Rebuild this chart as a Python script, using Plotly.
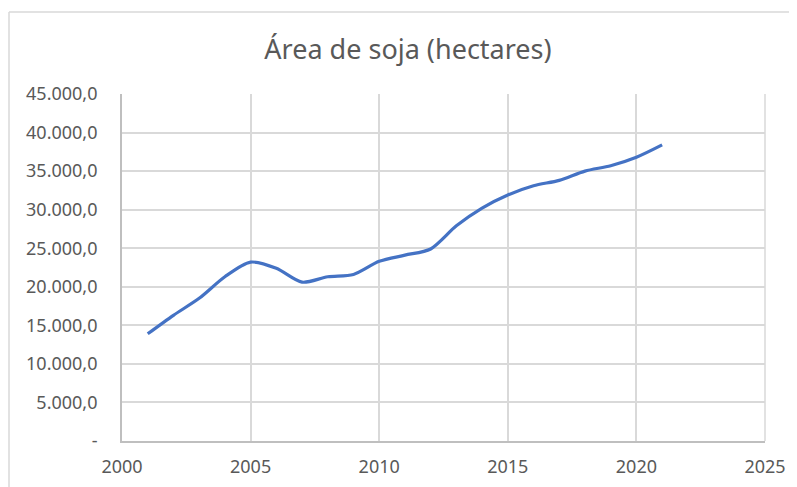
import plotly.graph_objects as go

years = [2001, 2002, 2003, 2004, 2005, 2006, 2007, 2008, 2009, 2010, 2011,
         2012, 2013, 2014, 2015, 2016, 2017, 2018, 2019, 2020, 2021]
area = [13900, 16300, 18500, 21300, 23200, 22400, 20600, 21300, 21600, 23300, 24100,
        24900, 27900, 30200, 31900, 33100, 33800, 35000, 35700, 36800, 38400]

y_tickvals = [0, 5000, 10000, 15000, 20000, 25000, 30000, 35000, 40000, 45000]
y_ticktext = ["-", "5.000,0", "10.000,0", "15.000,0", "20.000,0", "25.000,0",
              "30.000,0", "35.000,0", "40.000,0", "45.000,0"]
x_tickvals = [2000, 2005, 2010, 2015, 2020, 2025]

OFF = 8  # page body margin
W, H = 789, 479
# plot area in screenshot pixels: x 122..765, y 94..441
L, T = 122 - OFF, 94 - OFF
R = W - (765 - OFF)
B = H - (441 - OFF)
pw, ph = W - L - R, H - T - B

fig = go.Figure()
fig.add_trace(go.Scatter(
    x=years, y=area, mode="lines",
    line=dict(color="#4472C4", width=3.2, shape="spline", smoothing=0.8),
    showlegend=False,
))

def px_x(p):
    return (p - OFF - L) / pw

def px_y(p):
    return (H - B - (p - OFF)) / ph

fig.update_layout(
    width=W, height=H,
    margin=dict(l=L, r=R, t=T, b=B),
    paper_bgcolor="white", plot_bgcolor="white",
    font=dict(family="Noto Sans", color="#595959", size=18),
    title=dict(text="Área de soja (hectares)", x=(408 - OFF) / W, xanchor="center",
               y=1 - (50 - OFF) / H, yanchor="middle",
               font=dict(size=27, color="#595959", family="Noto Sans")),
    xaxis=dict(range=[2000, 2025], tickvals=x_tickvals, showgrid=True,
               gridcolor="#d9d9d9", gridwidth=1.5, zeroline=False,
               showline=True, linecolor="#bfbfbf", linewidth=1.8,
               ticks="", ticklabelstandoff=8, automargin=False,
               tickfont=dict(size=18)),
    yaxis=dict(range=[0, 45000], tickvals=y_tickvals, ticktext=y_ticktext,
               showgrid=True, gridcolor="#d9d9d9", gridwidth=1.5, zeroline=False,
               showline=True, linecolor="#bfbfbf", linewidth=1.8,
               ticks="", ticklabelstandoff=19, automargin=False,
               tickfont=dict(size=18)),
    shapes=[
        dict(type="line", xref="paper", yref="paper",
             x0=px_x(9), x1=px_x(9), y0=px_y(12), y1=px_y(500),
             line=dict(color="#d9d9d9", width=1.5)),
        dict(type="line", xref="paper", yref="paper",
             x0=px_x(9), x1=px_x(820), y0=px_y(12), y1=px_y(12),
             line=dict(color="#d9d9d9", width=1.5)),
        dict(type="line", xref="paper", yref="paper",
             x0=1, x1=1, y0=0, y1=1,
             line=dict(color="#d9d9d9", width=1.5)),
    ],
)

fig.write_html("out.html")
